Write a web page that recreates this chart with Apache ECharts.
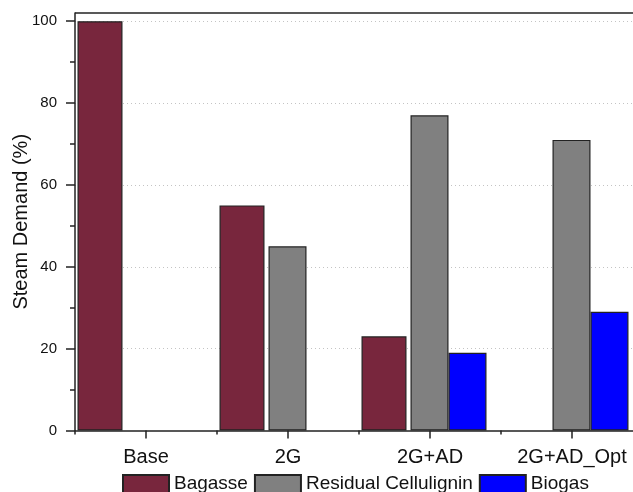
<!DOCTYPE html>
<html>
<head>
<meta charset="utf-8">
<script src="https://cdn.jsdelivr.net/npm/echarts@6/dist/echarts.min.js"></script>
<style>
html,body{margin:0;padding:0;background:#fff;overflow:hidden;width:633px;height:492px;}
#chart{width:643px;height:492px;}
</style>
</head>
<body>
<div id="chart"></div>
<script>
var categories = ['Base', '2G', '2G+AD', '2G+AD_Opt'];
var bagasse = [100, 55, 23, '-'];
var residualCellulignin = ['-', 45, 77, 71];
var biogas = ['-', '-', 19, 29];
var seriesNames = ['Bagasse', 'Residual Cellulignin', 'Biogas'];
var yTicks = [0, 20, 40, 60, 80, 100];
var yMax = 102;
var empty = ['-', '-', '-', '-'];

// half-category slots, used only to place the tick marks at the category centres
var halfSlots = [];
categories.forEach(function (c) { halfSlots.push(c + '_a', c + '_b'); });

var FONT = 'Liberation Sans, Arial, sans-serif';
var chart = echarts.init(document.getElementById('chart'));
var border = {borderColor: '#222', borderWidth: 1.2};

chart.setOption({
  animation: false,
  backgroundColor: '#fff',
  grid: {left: 75, right: 0, top: 13, bottom: 61.5, show: false,
         outerBoundsMode: 'none', containLabel: false},
  legend: {
    data: seriesNames,
    left: 117, top: 469,
    itemWidth: 46, itemHeight: 18, itemGap: 6,
    icon: 'rect',
    textStyle: {fontFamily: FONT, fontSize: 19, color: '#111'}
  },
  xAxis: [{
    type: 'category',
    data: categories,
    position: 'bottom',
    axisLine: {lineStyle: {color: '#222', width: 1.5}},
    axisTick: {show: true, interval: 0, length: 4, lineStyle: {color: '#222', width: 1.5}},
    axisLabel: {interval: 0, fontFamily: FONT, fontSize: 20, color: '#111', margin: 17},
    splitLine: {show: false}
  }, {
    type: 'category',
    data: halfSlots,
    position: 'bottom',
    offset: 0,
    axisLine: {show: false},
    axisTick: {show: true, length: 8,
      interval: function (i) { return i % 2 === 1; },
      lineStyle: {color: '#222', width: 1.5}},
    axisLabel: {show: false},
    splitLine: {show: false}
  }],
  yAxis: {
    type: 'value',
    min: 0, max: yMax, interval: 20,
    name: 'Steam Demand (%)',
    nameLocation: 'middle',
    nameGap: 44,
    nameMoveOverlap: false,
    nameTextStyle: {fontFamily: FONT, fontSize: 20, color: '#111'},
    axisLine: {show: true, onZero: false, lineStyle: {color: '#222', width: 1.5}},
    axisTick: {show: true, length: 9, customValues: yTicks, lineStyle: {color: '#222', width: 1.5}},
    minorTick: {show: true, splitNumber: 2, length: 5, lineStyle: {color: '#222', width: 1.5}},
    axisLabel: {fontFamily: FONT, fontSize: 15, color: '#111', margin: 18,
      formatter: function (v) { return v > 100 ? '' : String(v); }},
    splitLine: {show: true, lineStyle: {
      color: ['transparent', '#c4c4c4', '#c4c4c4', '#c4c4c4', '#c4c4c4', '#c4c4c4', 'transparent'],
      width: 1, type: [1, 3]}}
  },
  series: [
    {name: seriesNames[0], type: 'bar', data: bagasse, barWidth: 45, barGap: '0%',
     itemStyle: Object.assign({color: '#78263D'}, border),
     markLine: {silent: true, symbol: ['none', 'none'], label: {show: false},
       lineStyle: {color: '#222', width: 1.5, type: 'solid'},
       data: [{yAxis: yMax}]}},
    {name: '_gap', type: 'bar', data: empty, barWidth: 4, barGap: '0%', itemStyle: {color: 'transparent'}},
    {name: seriesNames[1], type: 'bar', data: residualCellulignin, barWidth: 38, barGap: '0%',
     itemStyle: Object.assign({color: '#808080'}, border)},
    {name: seriesNames[2], type: 'bar', data: biogas, barWidth: 38, barGap: '0%',
     itemStyle: Object.assign({color: '#0000FF'}, border)},
    {name: '_end', type: 'bar', data: empty, barWidth: 12, barGap: '0%', itemStyle: {color: 'transparent'}}
  ]
});
</script>
</body>
</html>
